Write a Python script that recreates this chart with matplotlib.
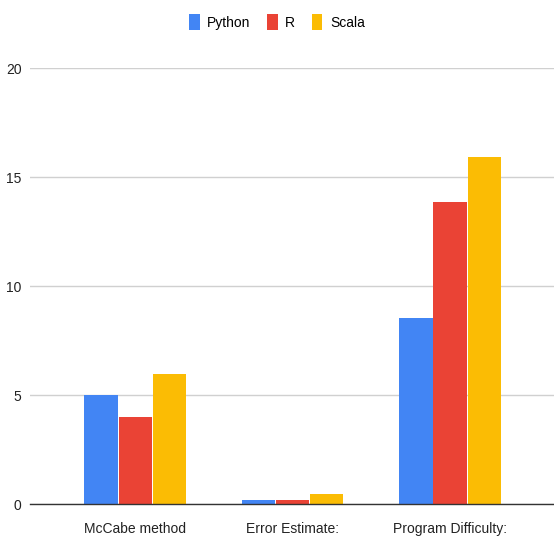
import numpy as np
import matplotlib.pyplot as plt
from matplotlib.patches import Patch

categories = ['McCabe method', 'Error Estimate:', 'Program Difficulty:']
series = ['Python', 'R', 'Scala']
python_vals = [5.0, 0.2, 8.55]
r_vals = [4.0, 0.2, 13.85]
scala_vals = [5.95, 0.45, 15.95]
colors = ['#4285F4', '#EA4335', '#FBBC04']
yticks = [0, 5, 10, 15, 20]

plt.rcParams['font.family'] = ['Liberation Sans', 'DejaVu Sans']

fig = plt.figure(figsize=(5.54, 5.39), dpi=100)
ax = fig.add_axes([30 / 554, 1 - 504 / 539, 1 - 30 / 554, (504 - 68.3) / 539])

x = np.arange(len(categories))
step = 0.217
width = 0.211
for i, (vals, c) in enumerate(zip([python_vals, r_vals, scala_vals], colors)):
    ax.bar(x + (i - 1) * step, vals, width, color=c, zorder=3)

ax.set_xlim(-0.668, 2.66)
ax.set_ylim(0, 20)
ax.set_yticks(yticks)
ax.set_xticks(x)
ax.set_xticklabels(categories)
ax.grid(axis='y', color='#d0d0d0', linewidth=1, zorder=0)
ax.tick_params(axis='both', length=0, labelsize=10, colors='#222222')
ax.tick_params(axis='x', pad=13)
ax.tick_params(axis='y', pad=6)
for s in ['top', 'right', 'left']:
    ax.spines[s].set_visible(False)
ax.spines['bottom'].set_color('#333333')
ax.spines['bottom'].set_linewidth(1)
ax.spines['bottom'].set_zorder(4)

handles = [Patch(facecolor=c, label=s) for s, c in zip(series, colors)]
fig.legend(handles=handles, loc='center', bbox_to_anchor=(0.5, 1 - 22 / 539),
           ncol=3, frameon=False, fontsize=10, handlelength=0.75,
           handleheight=1.5, handletextpad=0.55, columnspacing=1.2)

fig.savefig('out.png', dpi=100)
